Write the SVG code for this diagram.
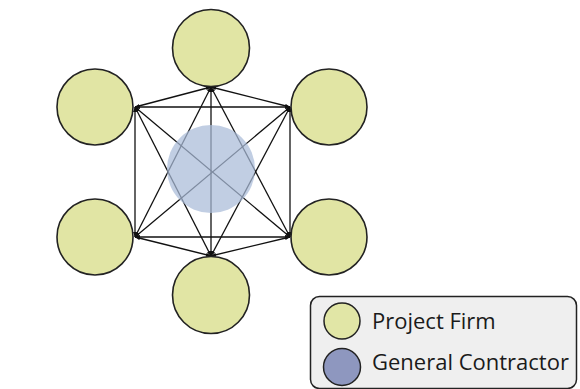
<svg xmlns="http://www.w3.org/2000/svg" width="580" height="389" viewBox="0 0 580 389">
<style>
.firm{fill:#e1e5a4;stroke:#222;stroke-width:1.6}
.edge{stroke:#111;stroke-width:1.3;fill:none;marker-start:url(#ah);marker-end:url(#ah)}
.lbl{font-family:"Open Sans","Liberation Sans",sans-serif;font-size:22px;fill:#1a1a1a}
</style>
<defs>
<marker id="ah" viewBox="0 0 10 10" refX="10" refY="5" markerWidth="5" markerHeight="5" orient="auto-start-reverse" markerUnits="userSpaceOnUse">
<path d="M0,1 L10,5 L0,9 z" fill="#111"/>
</marker>
</defs>
<rect width="580" height="389" fill="#fff"/>
<g id="connectors">
<line class="edge" x1="211" y1="87" x2="135" y2="107"/>
<line class="edge" x1="211" y1="87" x2="290" y2="107"/>
<line class="edge" x1="211" y1="87" x2="211" y2="256"/>
<line class="edge" x1="211" y1="87" x2="135" y2="237"/>
<line class="edge" x1="211" y1="87" x2="290" y2="237"/>
<line class="edge" x1="135" y1="107" x2="290" y2="107"/>
<line class="edge" x1="135" y1="107" x2="135" y2="237"/>
<line class="edge" x1="290" y1="107" x2="290" y2="237"/>
<line class="edge" x1="135" y1="237" x2="290" y2="237"/>
<line class="edge" x1="135" y1="107" x2="290" y2="237"/>
<line class="edge" x1="290" y1="107" x2="135" y2="237"/>
<line class="edge" x1="211" y1="256" x2="135" y2="107"/>
<line class="edge" x1="211" y1="256" x2="290" y2="107"/>
<line class="edge" x1="211" y1="256" x2="135" y2="237"/>
<line class="edge" x1="211" y1="256" x2="290" y2="237"/>
</g>
<g id="gc-center"><circle cx="211" cy="169" r="44" fill="#a9bbd8" fill-opacity="0.72"/></g>
<g id="firm-top"><circle class="firm" cx="211" cy="48" r="38.5"/></g>
<g id="firm-top-left"><circle class="firm" cx="95" cy="107" r="38"/></g>
<g id="firm-top-right"><circle class="firm" cx="329" cy="107" r="38"/></g>
<g id="firm-bottom-left"><circle class="firm" cx="95" cy="237" r="38"/></g>
<g id="firm-bottom-right"><circle class="firm" cx="329" cy="237" r="38"/></g>
<g id="firm-bottom"><circle class="firm" cx="211" cy="295" r="38.5"/></g>
<g id="legend">
<rect x="310.5" y="296.5" width="266" height="92" rx="9" fill="#efefef" stroke="#222" stroke-width="1.5"/>
<circle cx="342" cy="321" r="18" fill="#e1e6a6" stroke="#222" stroke-width="1.5"/>
<circle cx="342" cy="367" r="18.5" fill="#8e97bf" stroke="#222" stroke-width="1.5"/>
<text class="lbl" x="372" y="329">Project Firm</text>
<text class="lbl" x="372" y="370">General Contractor</text>
</g>
</svg>
